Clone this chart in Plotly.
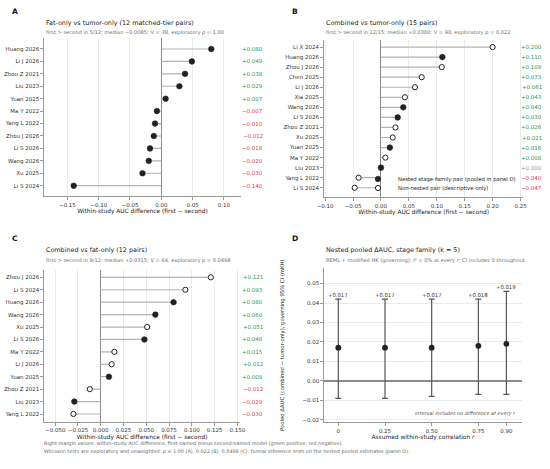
import plotly.graph_objects as go

W, H = 550, 469

# ---------------- data ----------------
a_studies = ["Huang 2026", "Li J 2026", "Zhou Z 2021", "Liu 2023", "Yuan 2025", "Ma Y 2022",
             "Yang L 2022", "Zhou J 2026", "Li S 2026", "Wang 2026", "Xu 2025", "Li S 2024"]
a_diff = [0.080, 0.049, 0.038, 0.029, 0.007, -0.007, -0.010, -0.012, -0.018, -0.020, -0.030, -0.140]

b_studies = ["Li X 2024", "Huang 2026", "Zhou J 2026", "Chen 2025", "Li J 2026", "Xia 2025",
             "Wang 2026", "Li S 2026", "Zhou Z 2021", "Xu 2025", "Yuan 2025", "Ma Y 2022",
             "Liu 2023", "Yang L 2022", "Li S 2024"]
b_diff = [0.200, 0.110, 0.109, 0.073, 0.061, 0.043, 0.040, 0.030, 0.026, 0.021, 0.016, 0.008,
          0.000, -0.040, -0.047]

c_studies = ["Zhou J 2026", "Li S 2024", "Huang 2026", "Wang 2026", "Xu 2025", "Li S 2026",
             "Ma Y 2022", "Li J 2026", "Yuan 2025", "Zhou Z 2021", "Liu 2023", "Yang L 2022"]
c_diff = [0.121, 0.093, 0.080, 0.060, 0.051, 0.048, 0.015, 0.012, 0.009, -0.012, -0.029, -0.030]

nested_studies = ["Huang 2026", "Wang 2026", "Li S 2026", "Yuan 2025", "Liu 2023"]

d_r = [0.0, 0.25, 0.50, 0.75, 0.90]
d_r_labels = ["0", "0.25", "0.50", "0.75", "0.90"]
d_est = [0.017, 0.017, 0.017, 0.018, 0.019]
d_lo = [-0.009, -0.009, -0.008, -0.007, -0.007]
d_hi = [0.042, 0.042, 0.042, 0.042, 0.046]

# ---------------- style ----------------
FONT = "DejaVu Sans"
DARK = "#222222"
STEM = "#b3b3b3"
SPINE = "#9a9a9a"
GRID = "#ebebeb"
GREEN = "#1f9a55"
RED = "#e23b55"
GREYTXT = "#999999"


def fx(p):
    return p / W


def fy(p):
    return 1 - p / H


def fmt(v):
    if v > 0:
        return "+%.3f" % v
    if v < 0:
        return "\u2212%.3f" % abs(v)
    return "+0.000"


def vcol(v):
    if v > 0:
        return GREEN
    if v < 0:
        return RED
    return GREYTXT


fig = go.Figure()
annotations = []

FILLED = dict(color=DARK, size=5.6, line=dict(color=DARK, width=0.6))
OPEN = dict(color="white", size=5.2, line=dict(color=DARK, width=1.0))


def lollipop(studies, diffs, xa, ya, split, legend_on, label_x):
    sx, sy = [], []
    for s, v in zip(studies, diffs):
        sx += [0, v, None]
        sy += [s, s, None]
    fig.add_trace(go.Scatter(x=sx, y=sy, mode="lines", line=dict(color=STEM, width=1.2),
                             xaxis=xa, yaxis=ya, showlegend=False, hoverinfo="skip"))
    if split:
        fx_, fy_, ox, oy = [], [], [], []
        for s, v in zip(studies, diffs):
            if s in nested_studies:
                fx_.append(v); fy_.append(s)
            else:
                ox.append(v); oy.append(s)
        fig.add_trace(go.Scatter(x=fx_, y=fy_, mode="markers", xaxis=xa, yaxis=ya,
                                 name="Nested stage-family pair (pooled in panel D)",
                                 marker=FILLED, showlegend=legend_on, legend="legend"))
        fig.add_trace(go.Scatter(x=ox, y=oy, mode="markers", xaxis=xa, yaxis=ya,
                                 name="Non-nested pair (descriptive only)",
                                 marker=OPEN, showlegend=legend_on, legend="legend2"))
    else:
        fig.add_trace(go.Scatter(x=diffs, y=studies, mode="markers", xaxis=xa, yaxis=ya,
                                 marker=FILLED, showlegend=False))
    for s, v in zip(studies, diffs):
        annotations.append(dict(xref="paper", yref=ya, x=label_x, y=s, text=fmt(v),
                                showarrow=False, xanchor="right", yanchor="middle",
                                font=dict(family=FONT, size=5.5, color=vcol(v))))


lollipop(a_studies, a_diff, "x", "y", False, False, fx(265))
lollipop(b_studies, b_diff, "x2", "y2", True, True, fx(544))
lollipop(c_studies, c_diff, "x3", "y3", True, False, fx(265))

# Panel D
fig.add_trace(go.Scatter(
    x=d_r, y=d_est, mode="markers", xaxis="x4", yaxis="y4", showlegend=False,
    marker=dict(color=DARK, size=5.8),
    error_y=dict(type="data", symmetric=False,
                 array=[h - e for h, e in zip(d_hi, d_est)],
                 arrayminus=[e - l for e, l in zip(d_est, d_lo)],
                 color="#555555", thickness=1.2, width=3)))
for r, h, e in zip(d_r, d_hi, d_est):
    annotations.append(dict(xref="x4", yref="y4", x=r, y=h, text=fmt(e), showarrow=False,
                            yanchor="middle", yshift=4.5,
                            font=dict(family=FONT, size=5.3, color="#333333")))

tickfont = dict(family=FONT, size=5.5, color="#333333")
titlefont = dict(family=FONT, size=5.9, color="#222222")


def xaxis_cfg(dom, y_anchor, rng, dtick, tfmt):
    return dict(domain=dom, anchor=y_anchor, range=rng, dtick=dtick, tick0=0, tickformat=tfmt,
                tickangle=0, automargin=False,
                showgrid=True, gridcolor=GRID, gridwidth=0.8,
                zeroline=True, zerolinecolor="#8a8a8a", zerolinewidth=1.3,
                showline=True, linecolor=SPINE, linewidth=0.9,
                ticks="outside", ticklen=3, tickwidth=0.8, tickcolor=SPINE,
                tickfont=tickfont,
                title=dict(text="Within-study AUC difference (first \u2212 second)",
                           font=titlefont, standoff=2))


def yaxis_cfg(dom, x_anchor, rng, cats):
    return dict(domain=dom, anchor=x_anchor, type="category", categoryorder="array",
                categoryarray=cats, range=rng, showgrid=False, zeroline=False,
                automargin=False,
                showline=True, linecolor=SPINE, linewidth=0.9,
                ticks="outside", ticklen=3, tickwidth=0.8, tickcolor=SPINE,
                tickfont=tickfont)


xdomA = [fx(44.3), fx(240.7)]
xdomB = [fx(324.0), fx(523.3)]
xdomC = [fx(44.3), fx(240.0)]
xdomD = [fx(324.3), fx(521.7)]

fig.update_layout(
    template="none",
    xaxis=xaxis_cfg(xdomA, "y", [-0.187, 0.127], 0.05, ".2f"),
    yaxis=yaxis_cfg([fy(196.0), fy(38.3)], "x", [11.83, -0.86], a_studies),
    xaxis2=xaxis_cfg(xdomB, "y2", [-0.102, 0.255], 0.05, ".2f"),
    yaxis2=yaxis_cfg([fy(197.3), fy(40.0)], "x2", [14.95, -0.7], b_studies),
    xaxis3=xaxis_cfg(xdomC, "y3", [-0.062, 0.153], 0.025, ".3f"),
    yaxis3=yaxis_cfg([fy(421.7), fy(270.0)], "x3", [11.62, -0.59], c_studies),
    xaxis4=dict(domain=xdomD, anchor="y4", range=[-0.075, 0.982], tickvals=d_r,
                ticktext=d_r_labels, showgrid=False, zeroline=False, tickangle=0,
                automargin=False,
                showline=True, linecolor=SPINE, linewidth=0.9,
                ticks="outside", ticklen=3, tickwidth=0.8, tickcolor=SPINE, tickfont=tickfont,
                title=dict(text="Assumed within-study correlation <i>r</i>", font=titlefont, standoff=2)),
    yaxis4=dict(domain=[fy(422.0), fy(268.0)], anchor="x4", range=[-0.0212, 0.058], dtick=0.01,
                tick0=0, tickformat=".2f", showgrid=True, gridcolor=GRID, gridwidth=0.8,
                automargin=False,
                zeroline=True, zerolinecolor="#8a8a8a", zerolinewidth=1.5,
                showline=True, linecolor=SPINE, linewidth=0.9,
                ticks="outside", ticklen=3, tickwidth=0.8, tickcolor=SPINE, tickfont=tickfont),
)

# panel letters, titles, subtitles
panels = [
    ("A", 15, 11, 44.3, 22.7, 32.7, "Fat-only vs tumor-only (12 matched-tier pairs)",
     "first > second in 5/12; median \u22120.0085; V = 38, exploratory <i>p</i> = 1.00"),
    ("B", 295, 11, 324.0, 22.7, 32.7, "Combined vs tumor-only (15 pairs)",
     "first > second in 12/15; median +0.0300; V = 90, exploratory <i>p</i> = 0.022"),
    ("C", 15, 239, 44.3, 250.0, 260.0, "Combined vs fat-only (12 pairs)",
     "first > second in 9/12; median +0.0315; V = 64, exploratory <i>p</i> = 0.0498"),
    ("D", 295, 239, 324.3, 249.5, 260.5, "Nested pooled \u0394AUC, stage family (k = 5)",
     "REML + modified HK (governing); I\u00b2 = 0% at every <i>r</i>; CI includes 0 throughout"),
]
for letter, lx, ly, tx, ty, sy, title, sub in panels:
    annotations.append(dict(xref="paper", yref="paper", x=fx(lx), y=fy(ly), text="<b>%s</b>" % letter,
                            showarrow=False, xanchor="center", yanchor="middle",
                            font=dict(family=FONT, size=7.5, color="#111111")))
    annotations.append(dict(xref="paper", yref="paper", x=fx(tx), y=fy(ty), text=title,
                            showarrow=False, xanchor="left", yanchor="middle",
                            font=dict(family=FONT, size=6.4, color="#222222")))
    annotations.append(dict(xref="paper", yref="paper", x=fx(tx), y=fy(sy), text=sub,
                            showarrow=False, xanchor="left", yanchor="middle",
                            font=dict(family=FONT, size=5.1, color="#707070")))

# panel D y title and note
annotations.append(dict(xref="paper", yref="paper", x=fx(282), y=fy(345), textangle=-90,
                        text="Pooled \u0394AUC (combined \u2212 tumor-only), governing 95% CI (mKH)",
                        showarrow=False, xanchor="center", yanchor="middle",
                        font=dict(family=FONT, size=5.3, color="#222222")))
annotations.append(dict(xref="paper", yref="paper", x=fx(517.7), y=fy(413.3),
                        text="<i>interval includes no difference at every r</i>",
                        showarrow=False, xanchor="right", yanchor="middle",
                        font=dict(family=FONT, size=4.9, color="#555555")))

# footer
annotations.append(dict(xref="paper", yref="paper", x=fx(41.7), y=fy(443.3),
                        text="Right-margin values: within-study AUC difference, first-named minus second-named model (green positive, red negative).",
                        showarrow=False, xanchor="left", yanchor="middle",
                        font=dict(family=FONT, size=4.9, color="#6a6a6a")))
annotations.append(dict(xref="paper", yref="paper", x=fx(41.7), y=fy(451.0),
                        text="Wilcoxon tests are exploratory and unweighted: <i>p</i> = 1.00 (A), 0.022 (B), 0.0498 (C); formal inference rests on the nested pooled estimates (panel D).",
                        showarrow=False, xanchor="left", yanchor="middle",
                        font=dict(family=FONT, size=4.9, color="#6a6a6a")))

legend_common = dict(xref="paper", yref="paper", xanchor="left", yanchor="middle",
                     bgcolor="rgba(0,0,0,0)", borderwidth=0,
                     font=dict(family=FONT, size=5.3, color="#222222"), itemwidth=30)
fig.update_layout(
    width=W, height=H, margin=dict(l=0, r=0, t=0, b=0, pad=0), autosize=False,
    paper_bgcolor="white", plot_bgcolor="white",
    font=dict(family=FONT, size=5.5, color="#222222"),
    annotations=annotations,
    legend=dict(x=fx(358), y=fy(179), **legend_common),
    legend2=dict(x=fx(358), y=fy(188), **legend_common),
)

fig.write_html("out.html", config={"displayModeBar": False},
               post_script="document.body.style.margin='0';document.body.style.overflow='hidden';")
